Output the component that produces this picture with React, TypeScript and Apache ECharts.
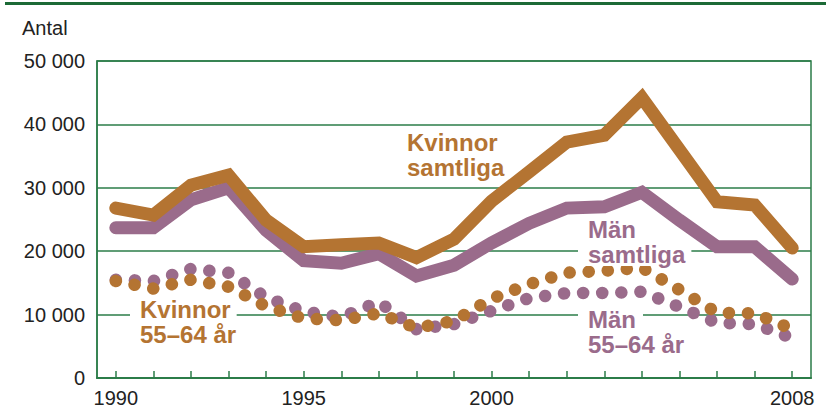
import React, { useEffect, useRef } from "react";
import * as echarts from "echarts";

const years = ["1990","1991","1992","1993","1994","1995","1996","1997","1998","1999","2000","2001","2002","2003","2004","2005","2006","2007","2008"];
const shownYears = ["1990", "1995", "2000", "2008"];
const kvinnorSamtliga = [26800, 25700, 30400, 32000, 24900, 20700, 21000, 21300, 19000, 21900, 27900, 32500, 37200, 38300, 44200, 36000, 27800, 27300, 20500];
const manSamtliga = [23700, 23700, 28100, 30000, 23300, 18500, 18100, 19600, 16100, 17800, 21300, 24400, 26800, 27000, 29300, 24900, 20700, 20700, 15600];
const kvinnor5564 = [15300, 14100, 15500, 14400, 11300, 9400, 9100, 10200, 7900, 9000, 12500, 14800, 16600, 16900, 17400, 13900, 10300, 10200, 7700];
const man5564 = [15500, 15300, 17200, 16600, 12700, 10500, 9600, 12000, 7700, 8500, 10600, 12600, 13400, 13400, 13600, 11200, 8700, 8500, 6300];

const ORANGE = "#b47432";
const PURPLE = "#9a6b8b";
const GREEN = "#2b7c48";
const TEXT = "#222222";
const FONT = '"Liberation Sans", Arial, Helvetica, sans-serif';

export default function App() {
  const ref = useRef<HTMLDivElement>(null);
  useEffect(() => {
    if (!ref.current) return;
    const chart = echarts.init(ref.current, null, { renderer: "svg" });
    const lbl = (
      line1: string,
      line2: string,
      x: number,
      y: number,
      lh: number,
      color: string,
      bg1: number[] | null,
      bg2: number[] | null
    ) => {
      const tok = (pad: number[] | null) => ({
        fill: color,
        fontSize: 24,
        fontWeight: "bold",
        fontFamily: FONT,
        lineHeight: lh,
        backgroundColor: pad ? "#ffffff" : undefined,
        padding: pad ? pad : undefined,
      });
      return {
        type: "text",
        x,
        y,
        z: 50,
        style: {
          text: `{a|${line1}}\n{b|${line2}}`,
          fill: color,
          font: `bold 24px ${FONT}`,
          lineHeight: lh,
          verticalAlign: "middle",
          align: "left",
          rich: { a: tok(bg1), b: tok(bg2) },
        },
      };
    };
    chart.setOption({
      animation: false,
      grid: {
        left: 97,
        right: 15,
        top: 61,
        bottom: 33,
        show: true,
        borderColor: GREEN,
        borderWidth: 1.5,
        backgroundColor: "transparent",
      },
      xAxis: {
        type: "category",
        data: years,
        boundaryGap: true,
        axisLine: { show: true, lineStyle: { color: GREEN, width: 2 } },
        axisTick: { show: true, alignWithLabel: true, inside: true, length: 7, interval: 0, lineStyle: { color: GREEN, width: 1.5 } },
        axisLabel: {
          interval: (_i: number, v: string) => shownYears.includes(v),
          color: TEXT,
          fontSize: 20,
          fontFamily: FONT,
          margin: 10,
        },
        splitLine: { show: false },
      },
      yAxis: {
        type: "value",
        min: 0,
        max: 50000,
        interval: 10000,
        axisLine: { show: true, lineStyle: { color: GREEN, width: 1.5 } },
        axisTick: { show: false },
        axisLabel: {
          color: TEXT,
          fontSize: 20,
          fontFamily: FONT,
          margin: 12,
          formatter: (v: number) => (v === 0 ? "0" : `${v / 1000} 000`),
        },
        splitLine: { show: true, lineStyle: { color: GREEN, width: 1.5 } },
      },
      series: [
        {
          name: "Män 55–64 år",
          type: "line",
          data: man5564,
          showSymbol: false,
          symbol: "none",
          lineStyle: { color: PURPLE, width: 12.5, type: [0.1, 19], cap: "round", join: "round" },
          z: 2,
        },
        {
          name: "Kvinnor 55–64 år",
          type: "line",
          data: kvinnor5564,
          showSymbol: false,
          symbol: "none",
          lineStyle: { color: ORANGE, width: 12.5, type: [0.1, 19], cap: "round", join: "round" },
          z: 3,
        },
        {
          name: "Män samtliga",
          type: "line",
          data: manSamtliga,
          showSymbol: false,
          symbol: "none",
          lineStyle: { color: PURPLE, width: 13, cap: "round", join: "miter" },
          z: 4,
        },
        {
          name: "Kvinnor samtliga",
          type: "line",
          data: kvinnorSamtliga,
          showSymbol: false,
          symbol: "none",
          lineStyle: { color: ORANGE, width: 13, cap: "round", join: "miter" },
          z: 5,
        },
      ],
      graphic: [
        { type: "rect", shape: { x: 5, y: 2, width: 821, height: 3 }, style: { fill: "#1c6a36" }, z: 50 },
        {
          type: "text",
          x: 22,
          y: 28,
          z: 50,
          style: { text: "Antal", fill: TEXT, font: `20px ${FONT}`, verticalAlign: "middle", align: "left" },
        },
        lbl("Kvinnor", "samtliga", 407, 155, 25, ORANGE, null, null),
        lbl("Män", "samtliga", 578, 241.5, 25, PURPLE, [0, 0, 0, 10], [0, 6, 0, 10]),
        lbl("Kvinnor", "55–64 år", 130, 321.5, 25, ORANGE, [0, 6, 0, 10], [0, 0, 0, 10]),
        lbl("Män", "55–64 år", 578, 332, 25, PURPLE, [0, 7, 0, 10], [0, 0, 0, 10]),
      ],
    });
    return () => chart.dispose();
  }, []);
  return (
    <div
      ref={ref}
      style={{ position: "fixed", left: 0, top: 0, width: 826, height: 411, background: "#ffffff" }}
    />
  );
}
